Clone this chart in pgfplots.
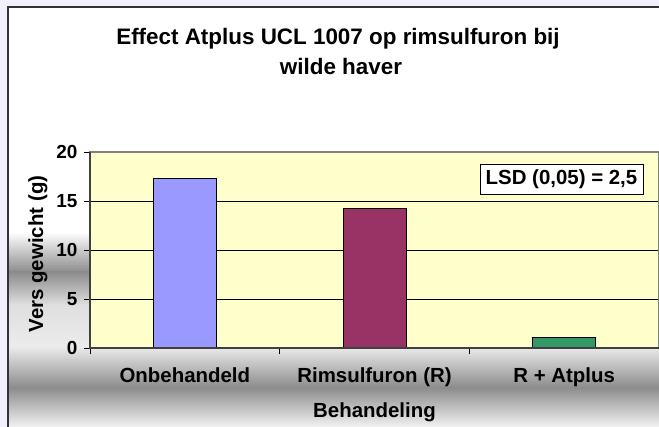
\documentclass[border=0pt]{standalone}
\usepackage{fontspec}
\setmainfont{Liberation Sans}
\usepackage{pgfplots}
\pgfplotsset{compat=1.18}
\definecolor{plotbg}{RGB}{255,255,204}
\definecolor{barA}{RGB}{153,153,255}
\definecolor{barB}{RGB}{153,51,102}
\definecolor{barC}{RGB}{51,153,102}
\definecolor{outerbg}{RGB}{242,240,252}
\definecolor{framec}{RGB}{51,51,51}
\definecolor{bordergray}{RGB}{128,128,128}
\definecolor{axisdark}{RGB}{64,64,64}
\newcommand{\fs}[1]{\bfseries\fontsize{#1}{#1}\selectfont}
\begin{document}
\begin{tikzpicture}
\useasboundingbox (0,0) rectangle (659bp,427bp);
\clip (0,0) rectangle (659bp,427bp);
\fill[outerbg] (0,0) rectangle (659bp,427bp);
\fill[white] (7bp,0) rectangle (659bp,420bp);
% decorative gradient bands
\shade[top color=white, bottom color=gray!90] (8.5bp,155bp) rectangle (90bp,195bp);
\shade[top color=gray!90, bottom color=gray!25] (8.5bp,122bp) rectangle (90bp,155bp);
\shade[top color=gray!25, bottom color=gray!15] (8.5bp,79bp) rectangle (90bp,122bp);
\shade[top color=gray!18, bottom color=gray!10, middle color=gray!90] (8.5bp,0) rectangle (659bp,79bp);
\begin{axis}[
  name=ax,
  at={(90bp,79bp)}, anchor=south west,
  scale only axis, width=569bp, height=196bp,
  xmin=-0.5, xmax=2.5, ymin=0, ymax=20,
  ytick={0,5,10,15,20},
  xtick={-0.5,0.5,1.5,2.5},
  xticklabels={Onbehandeld,Rimsulfuron (R),R + Atplus},
  x tick label as interval,
  xtick pos=left, ytick pos=left,
  tick align=outside,
  major tick length=6bp,
  tick style={black, line width=0.8bp},
  ymajorgrids, grid style={black, line width=0.8bp},
  axis line style={draw=bordergray, line width=1.3bp},
  axis background/.style={fill=plotbg},
  ybar, bar width=63bp,
  /pgf/number format/assume math mode=true,
  yticklabel style={font=\fs{19}, xshift=-3bp},
  xticklabel style={font=\fs{20.5}, yshift=-10bp, text height=15bp, text depth=4bp},
]
\addplot[fill=barA, draw=black, line width=0.8bp, bar shift=0pt] coordinates {(0,17.3)};
\addplot[fill=barB, draw=black, line width=0.8bp, bar shift=0pt] coordinates {(1,14.25)};
\addplot[fill=barC, draw=black, line width=0.8bp, bar shift=0pt] coordinates {(2,1.1)};
\end{axis}
\draw[axisdark, line width=1.5bp] (ax.north west) -- (ax.south west) -- (ax.south east);
\draw[framec, line width=2bp] (7.5bp,0) -- (7.5bp,419.5bp) -- (659bp,419.5bp);
\node[font=\fs{22.5}, anchor=base] at (338bp,382bp) {Effect Atplus UCL 1007 op rimsulfuron bij};
\node[font=\fs{22.5}, anchor=base] at (341bp,352bp) {wilde haver};
\node[font=\fs{20.5}, rotate=90] at (38bp,173bp) {Vers gewicht (g)};
\node[font=\fs{20.5}, anchor=base] at (374.5bp,10bp) {Behandeling};
\node[draw=black, line width=0.8bp, fill=white, minimum width=163bp, minimum height=30bp, inner sep=0pt, font=\fs{20.5}] at (561.5bp,248bp) {LSD (0,05) = 2,5};
\end{tikzpicture}
\end{document}
